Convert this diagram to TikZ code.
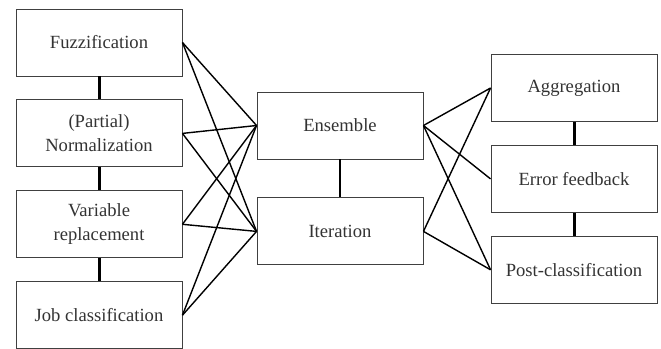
\documentclass[tikz,border=0pt]{standalone}
\usepackage{fontspec}
\setmainfont{Liberation Serif}
\usetikzlibrary{positioning}
\tikzset{
    stage/.style={draw=black!75, line width=0.9pt, minimum width=166pt,
        minimum height=67pt, inner sep=0pt, align=center, text=black!80,
        font=\fontsize{18.6}{24}\selectfont},
    link/.style={line width=1.4pt},
    joint/.style={line width=3pt}
}

\begin{document}
\begin{tikzpicture}[x=1pt,y=-1pt]
\useasboundingbox (0,0) rectangle (661,348);

\node[stage] (fuzz) at (99,42.5) {Fuzzification};
\node[stage, below=23pt of fuzz] (norm) {(Partial)\\Normalization};
\node[stage, below=23pt of norm] (var) {Variable\\replacement};
\node[stage, below=23pt of var] (job) {Job classification};

\node[stage] (ens) at (340,125.5) {Ensemble};
\node[stage, below=38pt of ens] (iter) {Iteration};

\node[stage] (agg) at (574,88) {Aggregation};
\node[stage, below=23pt of agg] (err) {Error feedback};
\node[stage, below=23pt of err] (post) {Post-classification};

\draw[joint] (fuzz.south) -- (norm.north);
\draw[joint] (norm.south) -- (var.north);
\draw[joint] (var.south) -- (job.north);
\draw[joint, line width=2pt] (ens.south) -- (iter.north);
\draw[joint] (agg.south) -- (err.north);
\draw[joint] (err.south) -- (post.north);

\foreach \a in {fuzz,norm,var,job}
    \foreach \b in {ens,iter}
        \draw[link] (\a.east) -- (\b.west);
\foreach \b in {agg,err,post}
    \draw[link] (ens.east) -- (\b.west);
\draw[link] (iter.east) -- (agg.west);
\draw[link] (iter.east) -- (post.west);
\end{tikzpicture}
\end{document}
